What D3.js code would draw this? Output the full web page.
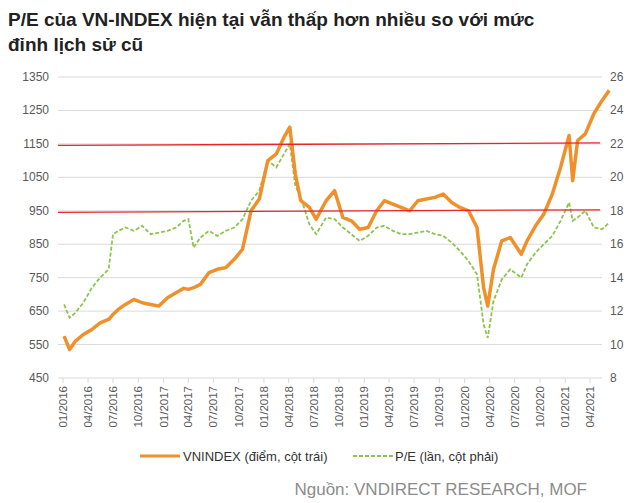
<!DOCTYPE html>
<html><head><meta charset="utf-8">
<script src="https://cdn.jsdelivr.net/npm/d3@7"></script>
<style>body{margin:0;background:#fff;font-family:Arial,"Liberation Sans",sans-serif}</style>
</head><body><svg id="c" width="640" height="503"></svg>
<script>
const dates=["2016-01-05","2016-01-25","2016-02-15","2016-03-15","2016-04-15","2016-05-15","2016-06-15","2016-07-01","2016-07-20","2016-08-15","2016-09-15","2016-10-15","2016-11-15","2016-12-15","2017-01-15","2017-02-15","2017-03-15","2017-04-01","2017-04-20","2017-05-15","2017-06-15","2017-07-15","2017-08-15","2017-09-15","2017-10-15","2017-11-15","2017-12-15","2018-01-15","2018-02-15","2018-03-15","2018-04-05","2018-04-25","2018-05-15","2018-06-15","2018-07-10","2018-08-15","2018-09-15","2018-10-15","2018-11-15","2018-12-15","2019-01-15","2019-02-15","2019-03-15","2019-04-15","2019-05-15","2019-06-15","2019-07-15","2019-08-15","2019-09-15","2019-10-15","2019-11-15","2019-12-15","2020-01-15","2020-02-15","2020-03-10","2020-03-25","2020-04-15","2020-05-15","2020-06-15","2020-07-25","2020-08-15","2020-09-15","2020-10-15","2020-11-15","2020-12-15","2021-01-15","2021-01-28","2021-02-15","2021-03-15","2021-04-15","2021-05-15","2021-06-10"];
const vnindex=[575,535,560,580,595,615,625,640,655,670,685,675,670,665,690,705,718,715,720,730,765,775,780,805,835,950,985,1100,1120,1170,1200,1060,980,960,925,980,1010,930,920,895,900,950,980,970,960,950,980,985,990,1000,975,960,950,900,720,665,775,860,870,820,860,905,940,1000,1080,1175,1040,1160,1180,1240,1280,1310];
const pe=[12.4,11.6,11.9,12.5,13.4,14.0,14.5,16.6,16.8,17.0,16.8,17.1,16.6,16.7,16.8,17.0,17.4,17.5,15.8,16.4,16.8,16.5,16.8,17.0,17.5,18.6,19.2,21.0,20.6,21.4,22.0,19.5,18.8,17.2,16.6,17.6,17.5,17.0,16.6,16.2,16.5,17.0,17.1,16.8,16.6,16.6,16.7,16.8,16.6,16.5,16.1,15.6,15.0,14.2,11.2,10.4,12.6,13.9,14.5,14.0,14.8,15.5,16.0,16.5,17.4,18.5,17.4,17.6,18.0,17.0,16.9,17.3];
const leftTicks=[450,550,650,750,850,950,1050,1150,1250,1350];
const rightTicks=[8,10,12,14,16,18,20,22,24,26];
const xTickLabels=["01/2016","04/2016","07/2016","10/2016","01/2017","04/2017","07/2017","10/2017","01/2018","04/2018","07/2018","10/2018","01/2019","04/2019","07/2019","10/2019","01/2020","04/2020","07/2020","10/2020","01/2021","04/2021"];
const redLines=[22,18];

const svg=d3.select("#c");
const pd=d3.timeParse("%Y-%m-%d");
const x=d3.scaleTime().domain([pd("2016-01-01"),pd("2021-04-01")]).range([63,590]);
const yL=d3.scaleLinear().domain([450,1350]).range([378,77]);
const yR=d3.scaleLinear().domain([8,26]).range([378,77]);
const tickX=d=>{const [m,y]=d.split("/");return x(new Date(+y,+m-1,1));};

svg.append("text").attr("x",8).attr("y",26).attr("font-size",19).attr("font-weight","bold").attr("fill","#222").text("P/E của VN-INDEX hiện tại vẫn thấp hơn nhiều so với mức");
svg.append("text").attr("x",8).attr("y",51).attr("font-size",19).attr("font-weight","bold").attr("fill","#222").text("đỉnh lịch sử cũ");

svg.append("g").selectAll("line").data(leftTicks).join("line")
 .attr("x1",58).attr("x2",602).attr("y1",d=>yL(d)).attr("y2",d=>yL(d)).attr("stroke","#d9d9d9");
svg.append("g").selectAll("line").data(xTickLabels).join("line")
 .attr("x1",tickX).attr("x2",tickX).attr("y1",378).attr("y2",383).attr("stroke","#d9d9d9");
svg.append("g").selectAll("text").data(leftTicks).join("text")
 .attr("x",49).attr("y",d=>yL(d)+4).attr("text-anchor","end").attr("font-size",12).attr("fill","#595959").text(d=>d);
svg.append("g").selectAll("text").data(rightTicks).join("text")
 .attr("x",610).attr("y",d=>yR(d)+4).attr("font-size",12).attr("fill","#595959").text(d=>d);
svg.append("g").selectAll("text").data(xTickLabels).join("text")
 .attr("transform",d=>`translate(${tickX(d)+4},386) rotate(-90)`)
 .attr("text-anchor","end").attr("font-size",11.5).attr("fill","#595959").text(d=>d);

const pts=dates.map((d,i)=>({d:pd(d),v:vnindex[i],p:pe[i]}));
svg.append("path").datum(pts).attr("fill","none").attr("stroke","#8DC44F").attr("stroke-width",1.8).attr("stroke-dasharray","4,2")
 .attr("d",d3.line().x(d=>x(d.d)).y(d=>yR(d.p)));
svg.append("path").datum(pts).attr("fill","none").attr("stroke","#F0902A").attr("stroke-width",3.5).attr("stroke-linejoin","round")
 .attr("d",d3.line().x(d=>x(d.d)).y(d=>yL(d.v)));
svg.append("g").selectAll("line").data(redLines).join("line")
 .attr("x1",58).attr("x2",600).attr("y1",d=>yR(d)+1.5).attr("y2",d=>yR(d)-1).attr("stroke","#E8262A").attr("stroke-width",1.3);

svg.append("line").attr("x1",140).attr("x2",180).attr("y1",456).attr("y2",456).attr("stroke","#F0902A").attr("stroke-width",3);
svg.append("text").attr("x",183).attr("y",461).attr("font-size",13).attr("fill","#333").text("VNINDEX (điểm, cột trái)");
svg.append("line").attr("x1",353).attr("x2",393).attr("y1",456).attr("y2",456).attr("stroke","#8DC44F").attr("stroke-width",1.8).attr("stroke-dasharray","4,2");
svg.append("text").attr("x",395).attr("y",461).attr("font-size",13).attr("fill","#333").text("P/E (lần, cột phải)");
svg.append("text").attr("x",587).attr("y",495).attr("text-anchor","end").attr("font-size",17).attr("fill","#8c8c8c").text("Nguồn: VNDIRECT RESEARCH, MOF");
</script></body></html>
